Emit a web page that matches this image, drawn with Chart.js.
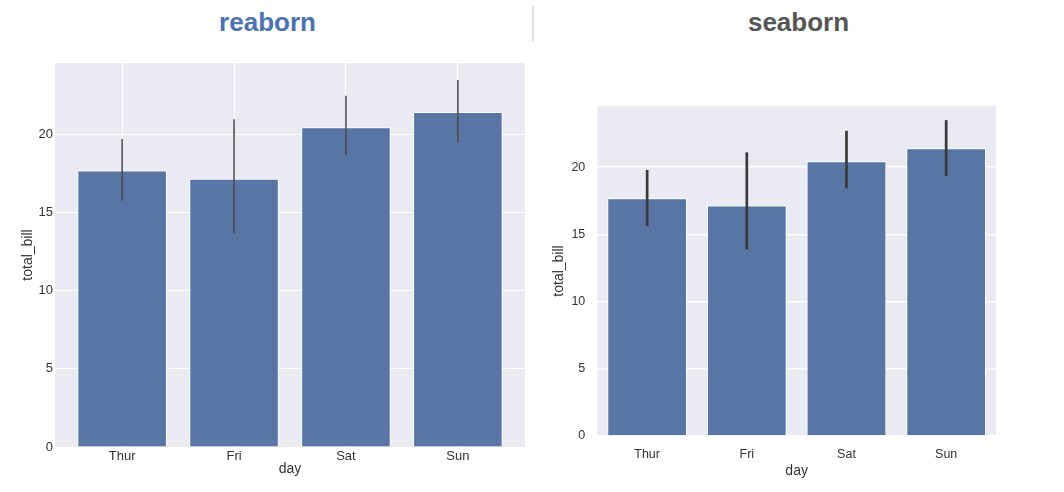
<!DOCTYPE html>
<html>
<head>
<meta charset="utf-8">
<script src="https://cdn.jsdelivr.net/npm/chart.js@4/dist/chart.umd.min.js"></script>
<style>
  body { margin: 0; background: #fff; width: 1064px; height: 492px; position: relative; overflow: hidden; font-family: 'Liberation Sans', Arial, sans-serif; }
  .title { position: absolute; top: 7px; font-size: 26px; font-weight: bold; line-height: 30px; text-align: center; }
  #leftTitle { left: 0; width: 535px; color: #4c72b0; }
  #rightTitle { left: 533px; width: 531px; color: #555555; }
  #divider { position: absolute; left: 532px; top: 6px; width: 2px; height: 35px; background: #dcdce4; }
  canvas { position: absolute; top: 50px; }
  #leftChart { left: 0; }
  #rightChart { left: 540px; }
</style>
</head>
<body>
<div class="title" id="leftTitle">reaborn</div>
<div id="divider"></div>
<div class="title" id="rightTitle">seaborn</div>
<canvas id="leftChart" width="540" height="442"></canvas>
<canvas id="rightChart" width="524" height="442"></canvas>
<script>
const days = ['Thur', 'Fri', 'Sat', 'Sun'];
const yTicks = [0, 5, 10, 15, 20];

// mean total_bill per day with confidence interval ends
const reabornMeans = [17.68, 17.15, 20.44, 21.41];
const reabornLow = [15.75, 13.67, 18.67, 19.47];
const reabornHigh = [19.69, 20.96, 22.45, 23.47];

const seabornMeans = [17.68, 17.15, 20.44, 21.41];
const seabornLow = [15.62, 13.88, 18.43, 19.35];
const seabornHigh = [19.8, 21.1, 22.7, 23.5];

const fontFamily = "'Liberation Sans', Arial, sans-serif";
const barColor = '#5975a4';
const panelBg = '#eaeaf2';

// fills the plot area behind the grid
const panelBackground = {
    id: 'panelBackground',
    beforeDraw(chart) {
        const { ctx, chartArea } = chart;
        ctx.save();
        ctx.fillStyle = panelBg;
        ctx.fillRect(chartArea.left, chartArea.top, chartArea.width, chartArea.height);
        ctx.restore();
    }
};

function errorBars(low, high, color, width) {
    return {
        id: 'errorBars',
        afterDatasetsDraw(chart) {
            const { ctx } = chart;
            const xs = chart.scales.x;
            const ys = chart.scales.y;
            ctx.save();
            ctx.strokeStyle = color;
            ctx.lineWidth = width;
            ctx.lineCap = 'butt';
            low.forEach((lo, i) => {
                const x = xs.getPixelForValue(i);
                ctx.beginPath();
                ctx.moveTo(x, ys.getPixelForValue(lo));
                ctx.lineTo(x, ys.getPixelForValue(high[i]));
                ctx.stroke();
            });
            ctx.restore();
        }
    };
}

function makePanel(id, cfg) {
    const ctx = document.getElementById(id).getContext('2d');
    return new Chart(ctx, {
        type: 'bar',
        data: {
            datasets: [{
                data: cfg.means.map((v, i) => ({ x: i, y: v })),
                backgroundColor: barColor,
                borderColor: '#ffffff',
                borderWidth: 1,
                borderSkipped: 'start',
                barPercentage: 0.8,
                categoryPercentage: 1.0
            }]
        },
        options: {
            responsive: false,
            animation: false,
            layout: { padding: cfg.padding },
            plugins: { legend: { display: false }, tooltip: { enabled: false } },
            scales: {
                x: {
                    type: 'linear',
                    offset: false,
                    min: cfg.xMin,
                    max: cfg.xMax,
                    afterBuildTicks: (scale) => { scale.ticks = days.map((d, i) => ({ value: i })); },
                    afterFit: (scale) => { scale.height = cfg.xAxisHeight; },
                    grid: { display: cfg.xGrid, offset: false, color: '#ffffff', lineWidth: cfg.gridWidth, drawTicks: false },
                    border: { display: false },
                    ticks: {
                        callback: (v) => days[v],
                        padding: cfg.xTickPad,
                        color: '#333333',
                        maxRotation: 0,
                        font: { family: fontFamily, size: cfg.tickSize }
                    },
                    title: {
                        display: true,
                        text: 'day',
                        color: '#333333',
                        padding: { top: 0, bottom: cfg.xTitlePad },
                        font: { family: fontFamily, size: 14 }
                    }
                },
                y: {
                    min: 0,
                    max: 24.55,
                    afterBuildTicks: (scale) => { scale.ticks = yTicks.map(v => ({ value: v })); },
                    afterFit: (scale) => { scale.width = cfg.yAxisWidth; },
                    grid: { color: '#ffffff', lineWidth: cfg.gridWidth, drawTicks: false },
                    border: { display: false },
                    ticks: {
                        padding: cfg.yTickPad,
                        color: '#333333',
                        font: { family: fontFamily, size: cfg.tickSize }
                    },
                    title: {
                        display: true,
                        text: 'total_bill',
                        color: '#333333',
                        padding: { top: cfg.yTitlePad, bottom: 0 },
                        font: { family: fontFamily, size: 14 }
                    }
                }
            }
        },
        plugins: [panelBackground, errorBars(cfg.low, cfg.high, cfg.errColor, cfg.errWidth)]
    });
}

makePanel('leftChart', {
    means: reabornMeans, low: reabornLow, high: reabornHigh,
    padding: { top: 13, right: 15, left: 0, bottom: 0 },
    xMin: -0.6, xMax: 3.6,
    xAxisHeight: 45, yAxisWidth: 55,
    xGrid: true, gridWidth: 1,
    xTickPad: 2, xTitlePad: 14.5,
    yTickPad: 2, yTitlePad: 20,
    tickSize: 13,
    errColor: '#4a4a4a', errWidth: 1.5
});

makePanel('rightChart', {
    means: seabornMeans, low: seabornLow, high: seabornHigh,
    padding: { top: 56, right: 68, left: 0, bottom: 0 },
    xMin: -0.5, xMax: 3.5,
    xAxisHeight: 56, yAxisWidth: 57.3,
    xGrid: false, gridWidth: 1.5,
    xTickPad: 11, xTitlePad: 12.5,
    yTickPad: 12, yTitlePad: 10.3,
    tickSize: 12.5,
    errColor: '#3a3a3a', errWidth: 2.7
});
</script>
</body>
</html>
